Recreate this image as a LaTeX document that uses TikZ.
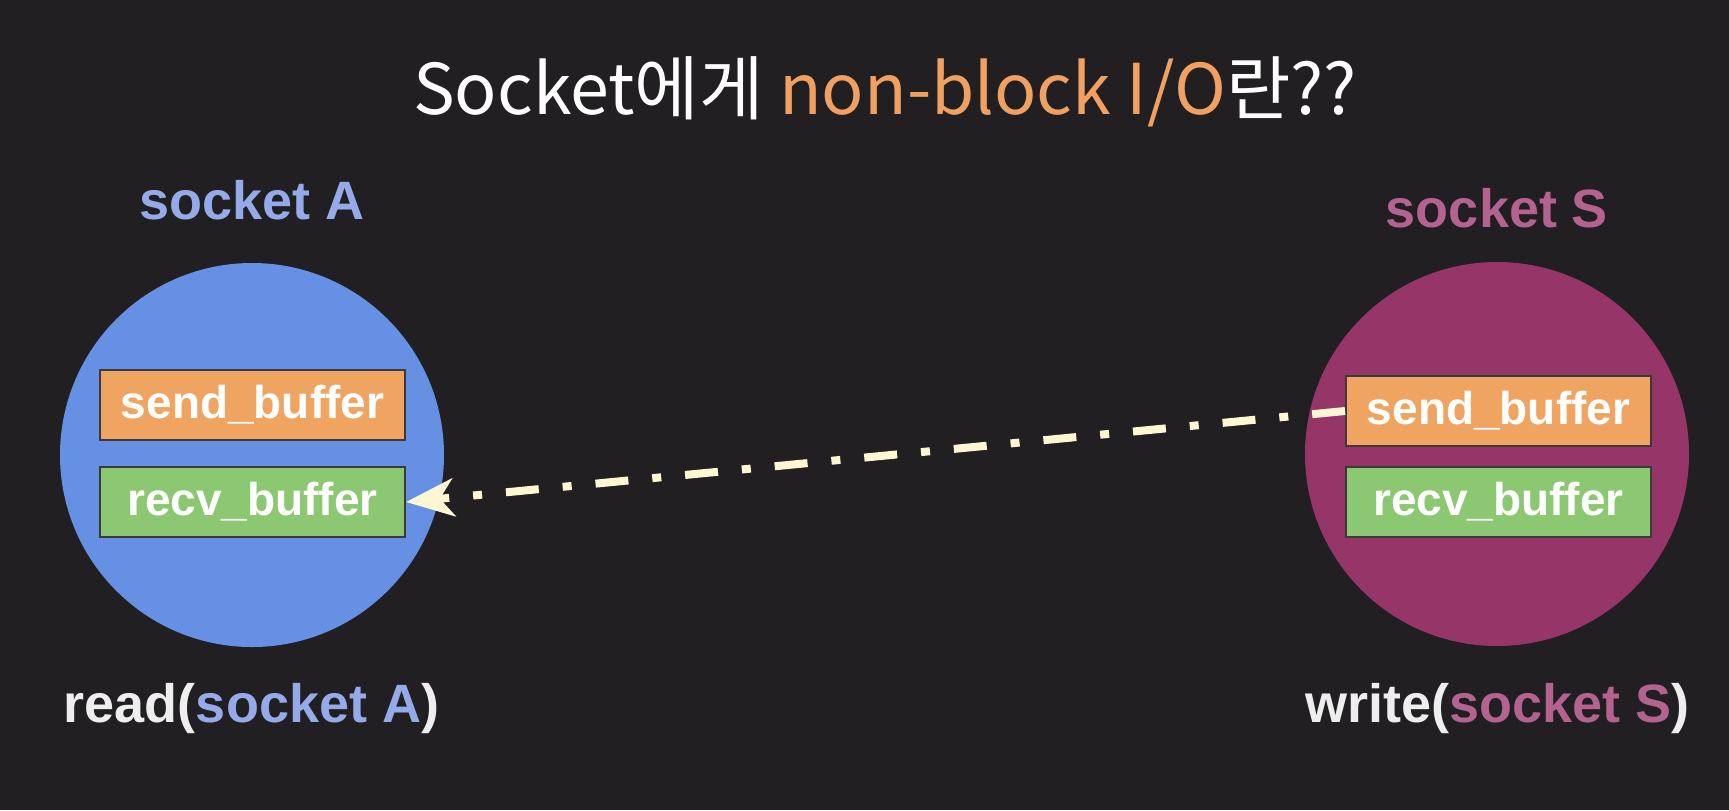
\documentclass[tikz,border=0pt]{standalone}
\usepackage{fontspec}
\setmainfont{Liberation Sans}
\newfontfamily\krfont{Noto Sans CJK KR}
\usetikzlibrary{arrows.meta}
\definecolor{bg}{HTML}{211F21}
\definecolor{blueA}{HTML}{6690E3}
\definecolor{purpS}{HTML}{963568}
\definecolor{orangeB}{HTML}{F0A462}
\definecolor{greenB}{HTML}{8CC872}
\definecolor{boxline}{HTML}{3A3A3A}
\definecolor{labA}{HTML}{95AAE8}
\definecolor{labS}{HTML}{B4628F}
\definecolor{titleor}{HTML}{F0A060}
\definecolor{txt}{HTML}{EEEEEE}
\definecolor{cream}{HTML}{FFF6D2}
\tikzset{
  sock/.style={circle, inner sep=0pt, minimum size=192pt},
  buf/.style={draw=boxline, line width=1pt, minimum width=152.5pt, minimum height=35pt,
    inner sep=0pt, text=white, font=\bfseries\fontsize{23}{23}\selectfont},
  lab/.style={font=\bfseries\fontsize{27}{27}\selectfont, inner sep=0pt, anchor=base},
  flow/.style={draw=cream, line width=4pt, dash pattern=on 16.5pt off 12pt on 4.5pt off 12pt,
    -{Stealth[length=24pt,width=19pt,inset=7pt]}}
}
\begin{document}
\begin{tikzpicture}[x=0.5pt,y=-0.5pt]
\fill[bg] (0,0) rectangle (1729,810);
\useasboundingbox (0,0) rectangle (1729,810);
% title
\node[anchor=base, inner sep=0pt, text=white, font=\krfont\fontsize{35}{35}\selectfont] (title) at (885,114)
  {Socket에게 \textcolor{titleor}{non-block I/O}란??};
% socket labels
\node[lab, text=labA] (labA) at (252,219) {socket A};
\node[lab, text=labS] (labS) at (1497,227) {socket S};
% circles
\node[sock, fill=blueA] (cA) at (252,455) {};
\node[sock, fill=purpS] (cS) at (1497,454) {};
% buffers
\node[buf, fill=orangeB] (sendA) at (252.5,405) {send\_buffer};
\node[buf, fill=greenB] (recvA) at (252.5,502) {recv\_buffer};
\node[buf, fill=orangeB] (sendS) at (1498.5,411) {send\_buffer};
\node[buf, fill=greenB] (recvS) at (1498.5,502) {recv\_buffer};
% connector
\draw[flow] (sendS.west) -- (recvA.east);
% bottom calls
\node[lab, text=txt] (readA) at (251.5,722) {read(\textcolor{labA}{socket A})};
\node[lab, text=txt] (writeS) at (1497.5,722) {write(\textcolor{labS}{socket S})};
\end{tikzpicture}
\end{document}
